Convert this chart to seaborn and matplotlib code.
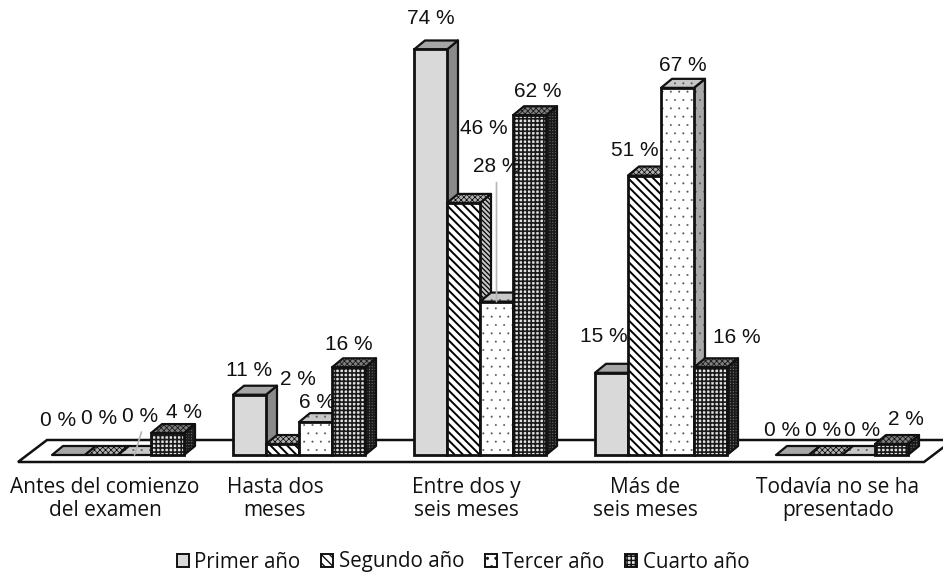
import matplotlib
matplotlib.use("Agg")
import matplotlib.pyplot as plt
from matplotlib.patches import Polygon, Rectangle, Patch
import pandas as pd
import seaborn as sns

categories = ["Antes del comienzo\ndel examen", "Hasta dos\nmeses", "Entre dos y\nseis meses",
              "Más de\nseis meses", "Todavía no se ha\npresentado"]
years = ["Primer año", "Segundo año", "Tercer año", "Cuarto año"]
primer = [0, 11, 74, 15, 0]
segundo = [0, 2, 46, 51, 0]
tercer = [0, 6, 28, 67, 0]
cuarto = [4, 16, 62, 16, 2]
series = [primer, segundo, tercer, cuarto]

# styling per year: front colour, side colour, top colour, hatches, hatch colour and widths
front_col = ["#d9d9d9", "#ffffff", "#ffffff", "#e2e2e2"]
side_col = ["#8a8a8a", "#c4c4c4", "#a8a8a8", "#6a6a6a"]
top_col = ["#a6a6a6", "#b0b0b0", "#c8c8c8", "#808080"]
front_hatch = [None, "\\\\\\\\", "..", "++++"]
side_hatch = [None, "\\\\\\\\\\\\\\", "..", "++++++"]
top_hatch = [None, "xxxxxx", "..", "xxxxxx"]
hatch_col = ["#000000", "#000000", "#555555", "#1a1a1a"]
front_hatch_lw = [1.0, 1.4, 0.2, 1.2]
side_hatch_lw = [1.0, 0.9, 0.2, 1.1]
top_hatch_lw = [1.0, 0.5, 0.2, 0.6]

# label offsets from bar top-centre, pixels (x right, y up)
label_off = [
    [(-10, 35), (-2, 37), (6, 39), (16, 21)],
    [(0, 24), (15, 65), (2, 20), (0, 23)],
    [(0, 31), (20, 74), (0, 135), (8, 24)],
    [(-8, 36), (-10, 25), (5, 22), (26, 30)],
    [(-10, 25), (-2, 25), (4, 25), (14, 25)],
]
leaders = {(0, 2): (7, 23), (2, 2): (0, 119)}
tick_shift_px = [-13, -24, -14, -16, -4]

W, H = 943, 575
X0, XS, Y0, YS = 118, 181, 455, 5.48      # pixel scale of the category and value axes
FLOOR_Y = 462
DX, DY = 11 / XS, 9 / YS                  # depth of the faux 3D extrusion

sns.set_theme(style="white")
plt.rcParams["font.family"] = ["Liberation Sans", "DejaVu Sans"]

long = pd.DataFrame({
    "cat": [c for c in categories for _ in years],
    "year": years * len(categories),
    "val": [series[h][g] for g in range(len(categories)) for h in range(len(years))],
})

fig = plt.figure(figsize=(W / 100, H / 100), dpi=100)
ax = fig.add_axes([0, (H - FLOOR_Y) / H, 1, FLOOR_Y / H])
sns.barplot(data=long, x="cat", y="val", hue="year", order=categories, hue_order=years,
            palette=dict(zip(years, front_col)), saturation=1, width=132 / XS, gap=0,
            legend=False, ax=ax, errorbar=None)
ax.set_xlim(-X0 / XS, (W - X0) / XS)
ax.set_ylim((Y0 - FLOOR_Y) / YS, Y0 / YS)


def add_face(verts, fc, hatch, h, hlw, z, lw=1.6):
    fill = Polygon(verts, closed=True, facecolor=fc, edgecolor=hatch_col[h], hatch=hatch, lw=0, zorder=z)
    if hasattr(fill, "set_hatch_linewidth"):
        fill.set_hatch_linewidth(hlw)
    ax.add_patch(fill)
    ax.add_patch(Polygon(verts, closed=True, fill=False, edgecolor="#111111", lw=lw, zorder=z + 0.01,
                         joinstyle="round"))


# floor of the chart
fx0, fx1 = (18 - X0) / XS, (924 - X0) / XS
fy0, fy1 = (Y0 - FLOOR_Y) / YS, (Y0 - 440) / YS
fs = (47 - 18) / XS
ax.add_patch(Polygon([(fx0, fy0), (fx1, fy0), (fx1 + fs, fy1), (fx0 + fs, fy1)], closed=True,
                     facecolor="white", edgecolor="#111111", lw=1.8, zorder=1, clip_on=False))

for h, cont in enumerate(ax.containers):
    for g, bar in enumerate(cont):
        x, w, v = bar.get_x(), bar.get_width(), bar.get_height()
        z = 10 + h
        add_face([(x + w, 0), (x + w + DX, DY), (x + w + DX, v + DY), (x + w, v)],
                 side_col[h], side_hatch[h], h, side_hatch_lw[h], z)
        add_face([(x, v), (x + w, v), (x + w + DX, v + DY), (x + DX, v + DY)],
                 top_col[h], top_hatch[h], h, top_hatch_lw[h], z + 0.1)
        bar.set_edgecolor(hatch_col[h])
        bar.set_linewidth(0)
        bar.set_hatch(front_hatch[h])
        if hasattr(bar, "set_hatch_linewidth"):
            bar.set_hatch_linewidth(front_hatch_lw[h])
        bar.set_zorder(z + 0.2)
        if v > 0:
            ax.add_patch(Rectangle((x, 0), w, v, fill=False, edgecolor="#111111", lw=2.0, zorder=z + 0.3))
        cx = x + w / 2
        ax.annotate(f"{v:.0f} %", xy=(cx, v), xytext=label_off[g][h], textcoords="offset pixels",
                    ha="center", va="center", fontsize=15, color="#111111", zorder=50,
                    annotation_clip=False)
        if (g, h) in leaders:
            ax.annotate("", xy=(cx, v), xytext=leaders[(g, h)], textcoords="offset pixels",
                        arrowprops=dict(arrowstyle="-", color="#b5b5b5", lw=1.2, shrinkA=0, shrinkB=0),
                        zorder=49)

ax.set_xticks([i + s / XS for i, s in enumerate(tick_shift_px)])
ax.set_xticklabels(categories, fontfamily=["Open Sans", "DejaVu Sans"], fontsize=15,
                   color="#111111", linespacing=1.08)
ax.tick_params(axis="x", length=0, pad=11)
ax.set_yticks([])
ax.set_xlabel("")
ax.set_ylabel("")
sns.despine(ax=ax, left=True, bottom=True)
ax.patch.set_alpha(0)

handles = []
for h in range(len(years)):
    p = Patch(facecolor=front_col[h], edgecolor="#111111", hatch=front_hatch[h], lw=1.4)
    handles.append(p)
fig.legend(handles, years, loc="center", bbox_to_anchor=(463 / W, 1 - 562 / H), ncol=4, frameon=False,
           prop={"family": ["Open Sans", "DejaVu Sans"], "size": 14.8}, labelcolor="#111111",
           handlelength=0.6, handleheight=0.6, handletextpad=0.25, columnspacing=1.0, borderpad=0)

fig.savefig("out.png", dpi=100)
